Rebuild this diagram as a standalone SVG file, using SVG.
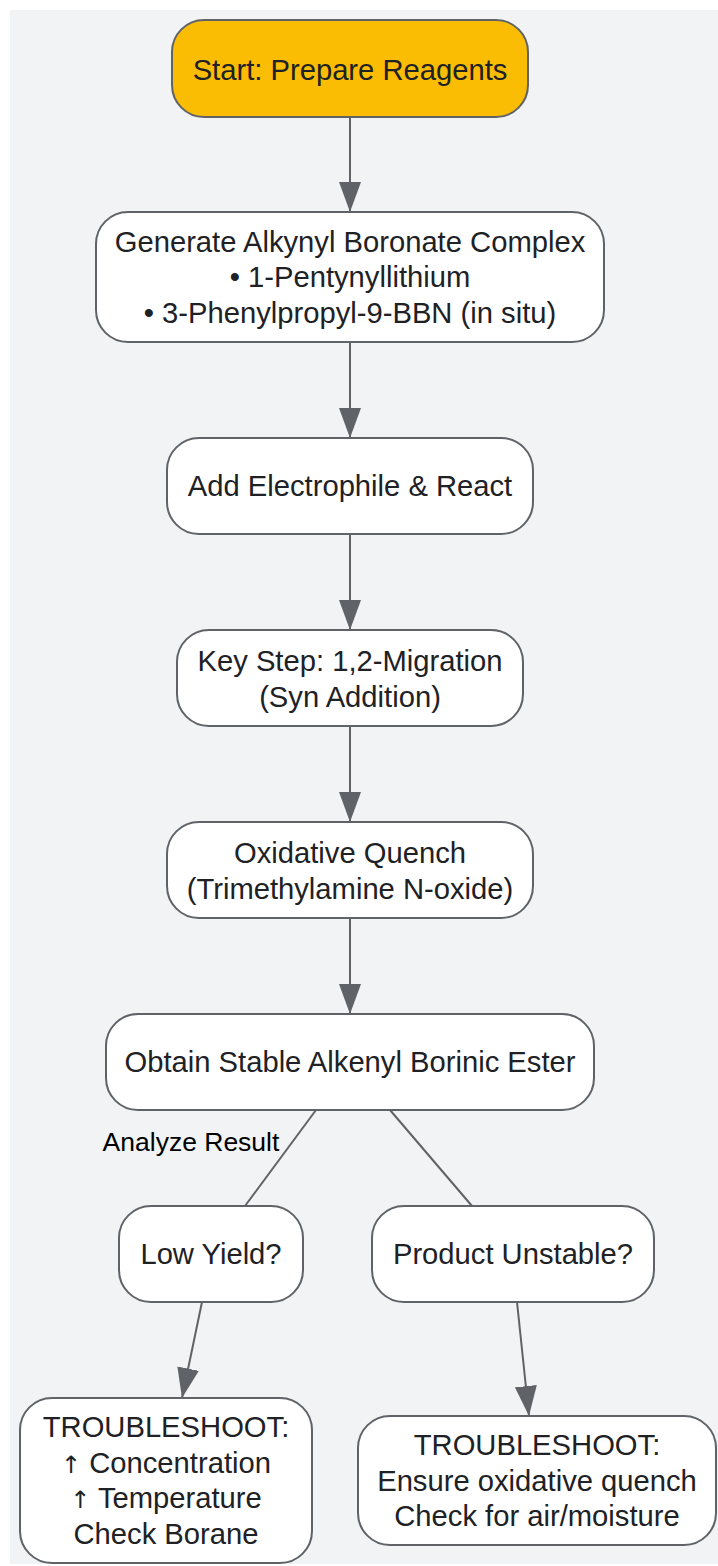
<svg xmlns="http://www.w3.org/2000/svg" width="718" height="1566" viewBox="0 0 718 1566">
<defs>
<style>
.node rect{fill:#ffffff;stroke:#5f6368;stroke-width:2}
.node.start rect{fill:#fbbc04}
.node text{font-family:"Liberation Sans",Arial,sans-serif;font-size:29.2px;fill:#202124;text-anchor:middle}
.node text .ar{font-family:"DejaVu Sans",sans-serif;font-size:24px;fill:#202124}
.edge{stroke:#5f6368;stroke-width:2;fill:none}
.elabel{font-family:"Liberation Sans",Arial,sans-serif;font-size:26.5px;fill:#000000;text-anchor:middle}
</style>
<marker id="arr" viewBox="0 0 30 22" refX="30" refY="11" markerWidth="30" markerHeight="22" markerUnits="userSpaceOnUse" orient="auto">
<path d="M0,0 L30,11 L0,22 z" fill="#5f6368"/>
</marker>
</defs>
<rect x="10" y="10" width="720" height="1554" fill="#f1f3f4"/>
<g id="connectors">
<line class="edge" x1="350" y1="117" x2="350" y2="212" marker-end="url(#arr)"/>
<line class="edge" x1="350" y1="342" x2="350" y2="438" marker-end="url(#arr)"/>
<line class="edge" x1="350" y1="534" x2="350" y2="630" marker-end="url(#arr)"/>
<line class="edge" x1="350" y1="726" x2="350" y2="822" marker-end="url(#arr)"/>
<line class="edge" x1="350" y1="918" x2="350" y2="1014" marker-end="url(#arr)"/>
<line class="edge" x1="316" y1="1110" x2="245" y2="1206"/>
<line class="edge" x1="390" y1="1110" x2="472" y2="1206"/>
<line class="edge" x1="202" y1="1302" x2="182" y2="1398" marker-end="url(#arr)"/>
<line class="edge" x1="517" y1="1302" x2="529" y2="1416" marker-end="url(#arr)"/>
<text class="elabel" x="191" y="1151">Analyze Result</text>
</g>
<g id="n_start" class="node start">
<rect x="172" y="20" width="356" height="97" rx="32" ry="32"/>
<text x="350" y="80">Start: Prepare Reagents</text>
</g>
<g id="n_generate" class="node">
<rect x="96" y="212" width="508" height="130" rx="32" ry="32"/>
<text x="350" y="251.5">Generate Alkynyl Boronate Complex</text>
<text x="350" y="287">• 1-Pentynyllithium</text>
<text x="350" y="322.5">• 3-Phenylpropyl-9-BBN (in situ)</text>
</g>
<g id="n_add" class="node">
<rect x="167" y="438" width="366" height="96" rx="32" ry="32"/>
<text x="350" y="496">Add Electrophile &amp; React</text>
</g>
<g id="n_key" class="node">
<rect x="177" y="630" width="346" height="96" rx="32" ry="32"/>
<text x="350" y="671">Key Step: 1,2-Migration</text>
<text x="350" y="706.5">(Syn Addition)</text>
</g>
<g id="n_oxid" class="node">
<rect x="167" y="822" width="366" height="96" rx="32" ry="32"/>
<text x="350" y="863">Oxidative Quench</text>
<text x="350" y="898.5">(Trimethylamine N-oxide)</text>
</g>
<g id="n_obtain" class="node">
<rect x="106" y="1014" width="488" height="96" rx="32" ry="32"/>
<text x="350" y="1072">Obtain Stable Alkenyl Borinic Ester</text>
</g>
<g id="n_low" class="node">
<rect x="119" y="1206" width="184" height="96" rx="32" ry="32"/>
<text x="211" y="1264">Low Yield?</text>
</g>
<g id="n_unstable" class="node">
<rect x="372" y="1206" width="282" height="96" rx="32" ry="32"/>
<text x="513" y="1264">Product Unstable?</text>
</g>
<g id="n_ts1" class="node">
<rect x="20" y="1398" width="292" height="165" rx="32" ry="32"/>
<text x="166" y="1437">TROUBLESHOOT:</text>
<text x="166" y="1472.5"><tspan class="ar">↑</tspan> Concentration</text>
<text x="166" y="1508"><tspan class="ar">↑</tspan> Temperature</text>
<text x="166" y="1543.5">Check Borane</text>
</g>
<g id="n_ts2" class="node">
<rect x="358" y="1416" width="358" height="129" rx="32" ry="32"/>
<text x="537" y="1455">TROUBLESHOOT:</text>
<text x="537" y="1490.5">Ensure oxidative quench</text>
<text x="537" y="1526">Check for air/moisture</text>
</g>
</svg>
